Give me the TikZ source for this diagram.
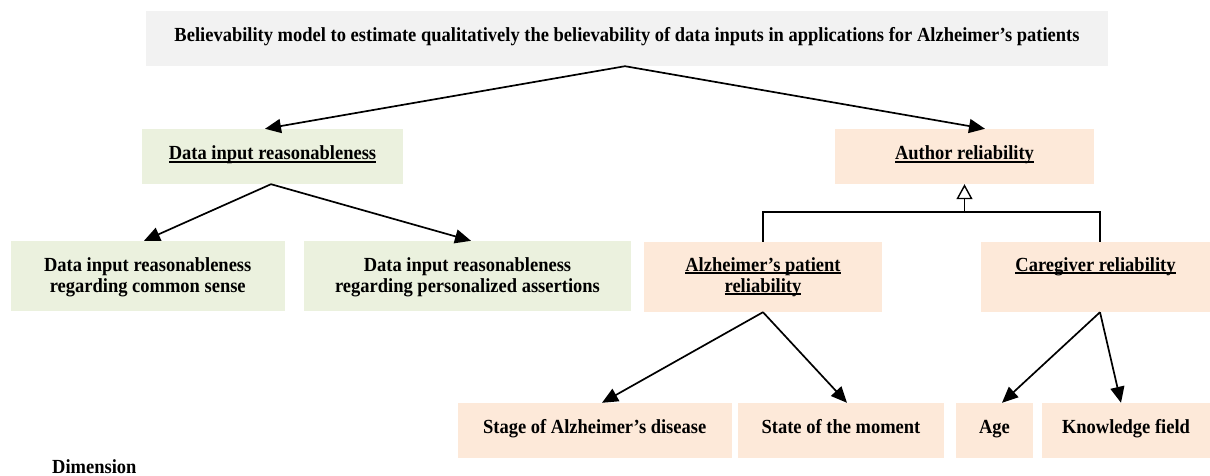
\documentclass[tikz,border=0pt]{standalone}
\usepackage{fontspec}
\setmainfont{Liberation Serif}[FakeStretch=0.925]
\usetikzlibrary{arrows.meta}
\definecolor{grayc}{HTML}{F2F2F2}
\definecolor{greenc}{HTML}{EBF1DE}
\definecolor{peachc}{HTML}{FDE9D9}
\newcommand\myul[1]{\setbox0\hbox{#1}\rlap{\rule[-2.6pt]{\wd0}{1.3pt}}\box0}
\tikzset{
  base/.style={inner sep=0pt, font=\bfseries\fontsize{20}{21}\selectfont, align=center},
  onebox/.style={base, minimum height=55pt, text height=12pt, text depth=5pt},
  lowbox/.style={base, minimum height=55pt, text height=11pt, text depth=6pt},
  twobox/.style={base, minimum height=70pt, text height=34pt, text depth=2pt},
  twoboxb/.style={base, minimum height=70pt, text height=32pt, text depth=2pt},
  arr/.style={line width=1.7pt, -{Triangle[length=16pt,width=14pt]}},
  gen/.style={line width=1.4pt},
  tri/.style={line width=1.4pt, -{Triangle[open,length=15pt,width=16pt,line width=1.4pt]}}
}
\begin{document}
\begin{tikzpicture}[x=1pt,y=-1pt]
\useasboundingbox (0,0) rectangle (1210,476);
\node[onebox, fill=grayc, minimum width=962pt] (top) at (627,38.5)
  {Believability model to estimate qualitatively the believability of data inputs in applications for Alzheimer’s patients};
\node[onebox, fill=greenc, minimum width=261pt] (dataR) at (272.5,156.5) {\myul{Data input reasonableness}};
\node[onebox, fill=peachc, minimum width=259pt] (author) at (964.5,156.5) {\myul{Author reliability}};
\node[twobox, fill=greenc, minimum width=274.5pt] (common) at (147.75,276) {Data input reasonableness\\regarding common sense};
\node[twobox, fill=greenc, minimum width=327pt] (personal) at (467.5,276) {Data input reasonableness\\regarding personalized assertions};
\node[twoboxb, fill=peachc, minimum width=238pt] (alzP) at (763,277) {\myul{Alzheimer’s patient}\\\myul{reliability}};
\node[twoboxb, fill=peachc, minimum width=229pt] (care) at (1095.5,277) {\myul{Caregiver reliability}\\\mbox{}};
\node[lowbox, fill=peachc, minimum width=274.5pt] (stage) at (594.75,430.5) {Stage of Alzheimer’s disease};
\node[lowbox, fill=peachc, minimum width=206pt] (state) at (841,430.5) {State of the moment};
\node[lowbox, fill=peachc, minimum width=77pt] (age) at (994.5,430.5) {Age};
\node[lowbox, fill=peachc, minimum width=168pt] (know) at (1126,430.5) {Knowledge field};
\node[base, anchor=west] (dim) at (52,467) {Dimension};
% arrows
\draw[arr] ([xshift=-2pt]top.south) -- ([xshift=-7.5pt]dataR.north);
\draw[arr] ([xshift=-2pt]top.south) -- ([xshift=20.5pt]author.north);
\draw[arr] ([xshift=-1.5pt]dataR.south) -- ([xshift=-3.75pt]common.north);
\draw[arr] ([xshift=-1.5pt]dataR.south) -- ([xshift=3.5pt]personal.north);
\draw[arr] (alzP.south) -- ([xshift=7.25pt]stage.north);
\draw[arr] (alzP.south) -- ([xshift=6pt]state.north);
\draw[arr] ([xshift=4.5pt]care.south) -- ([xshift=7.5pt]age.north);
\draw[arr] ([xshift=4.5pt]care.south) -- ([xshift=-5pt]know.north);
% generalization
\draw[gen] (alzP.north) -- ++(0,-30) -| ([xshift=4.5pt]care.north);
\draw[tri] ([yshift=-28pt]author.south) -- (author.south);
\end{tikzpicture}
\end{document}
